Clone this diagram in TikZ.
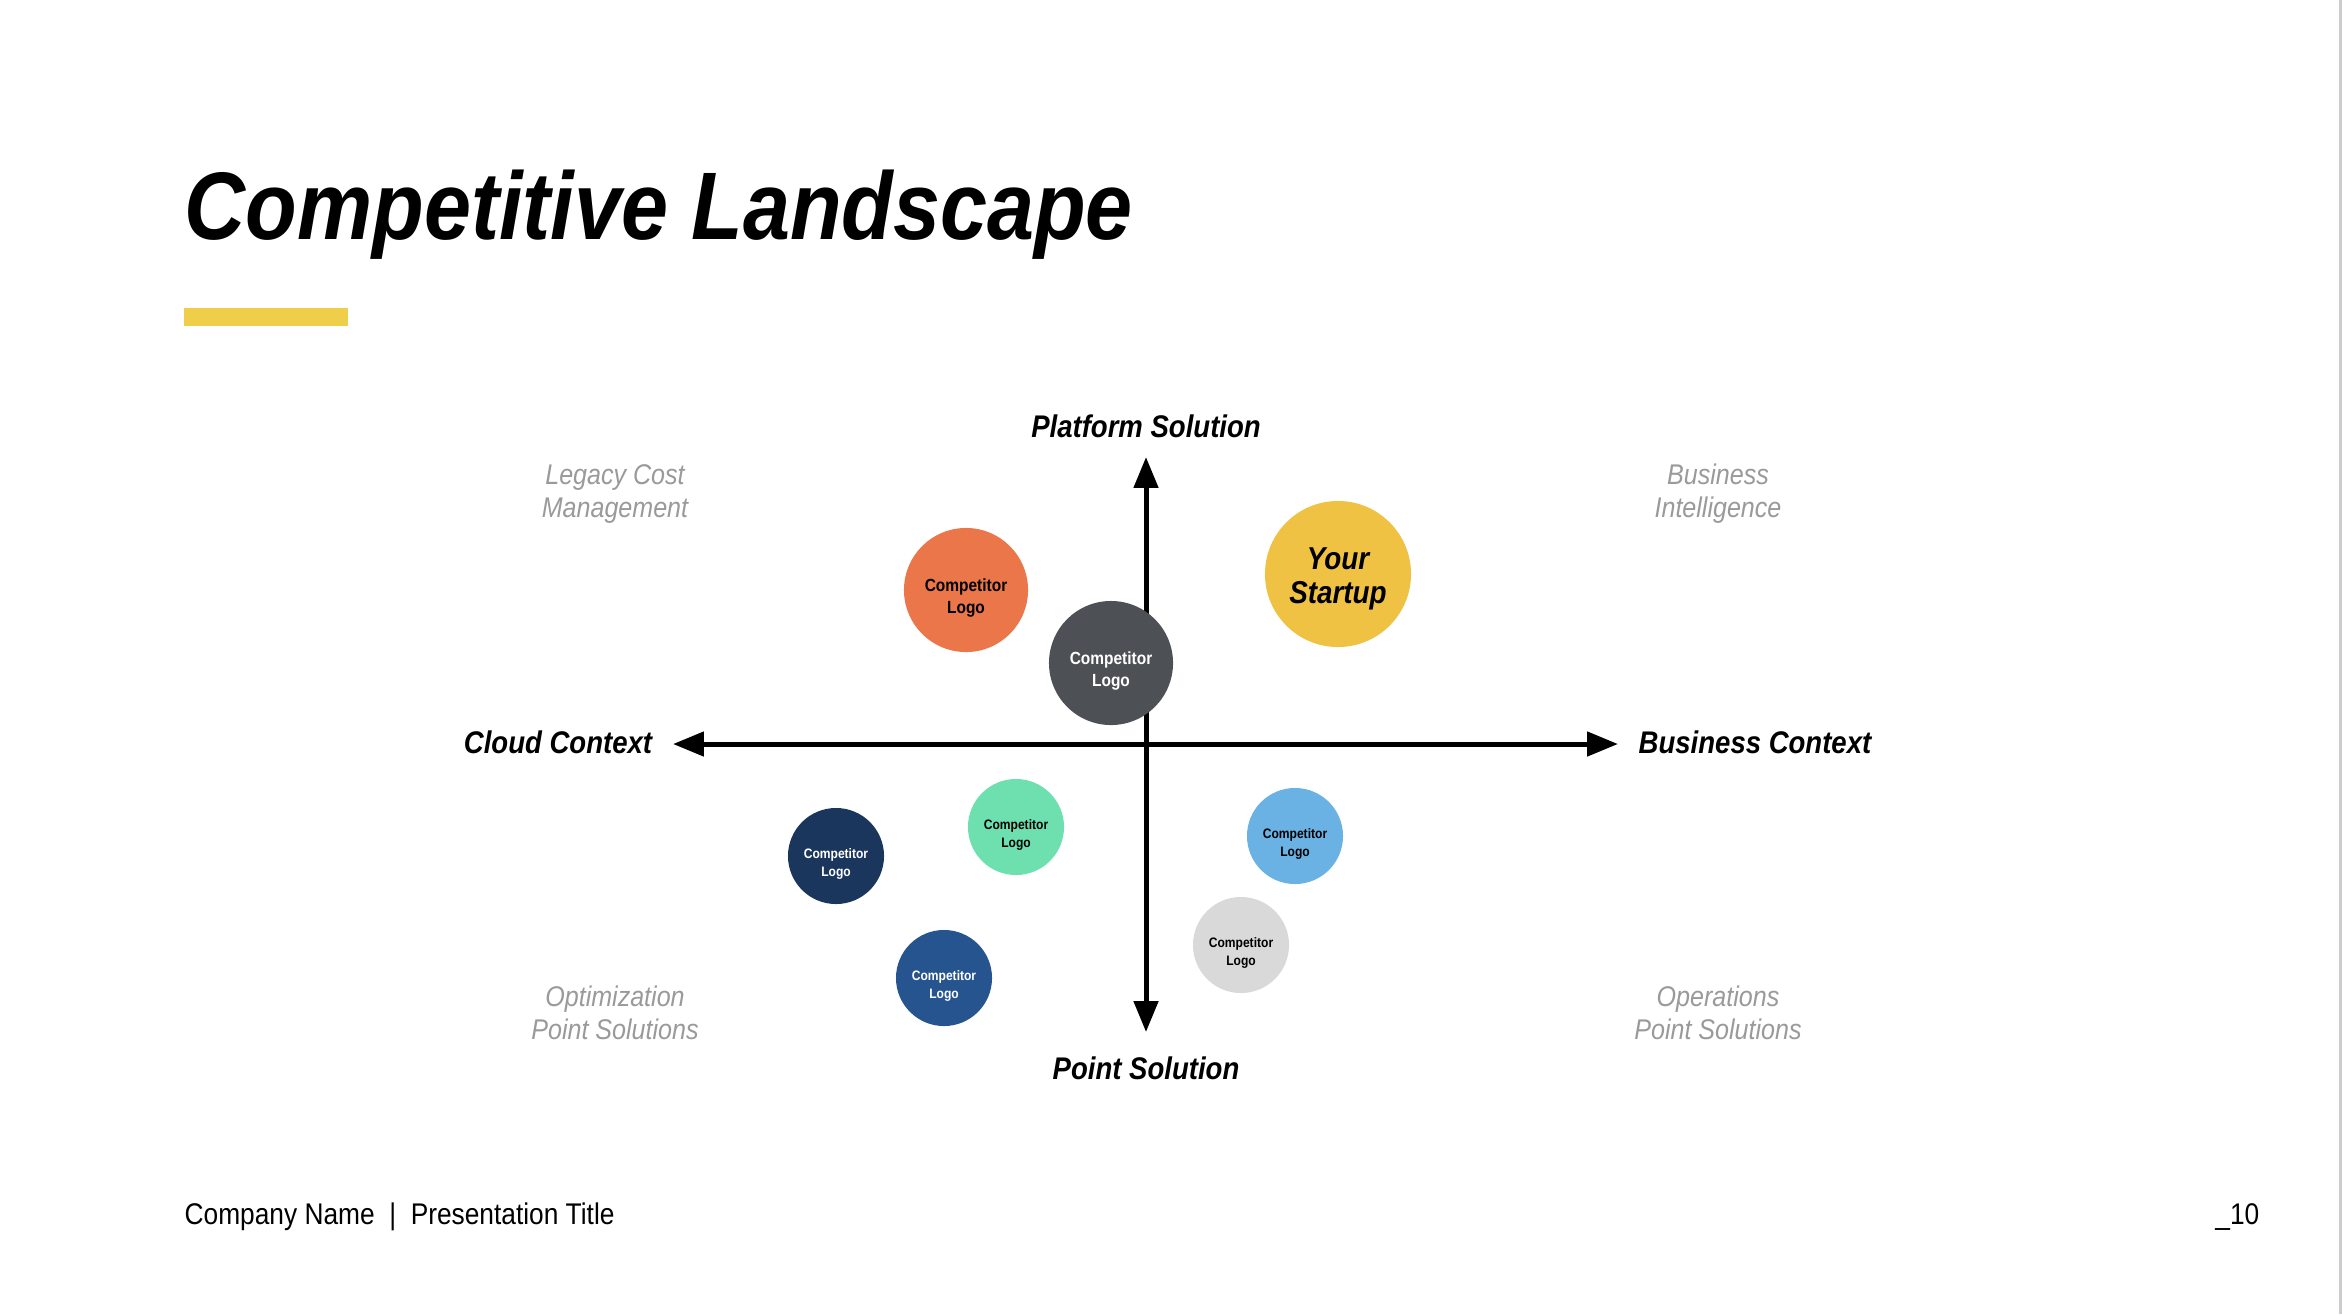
\documentclass[tikz,border=0pt]{standalone}
\usepackage{fontspec}
\setmainfont{Liberation Sans}[FakeStretch=0.88]
\usetikzlibrary{arrows.meta}
\definecolor{cOrange}{HTML}{EA7649}
\definecolor{cDark}{HTML}{4D5055}
\definecolor{cYellow}{HTML}{F0C244}
\definecolor{cNavy}{HTML}{1B365D}
\definecolor{cGreen}{HTML}{6EDFAF}
\definecolor{cMid}{HTML}{26548F}
\definecolor{cLight}{HTML}{6AB1E4}
\definecolor{cGrayC}{HTML}{D9D9D9}
\definecolor{cBar}{HTML}{EFCF4A}
\definecolor{cNote}{HTML}{9A9A9A}
\tikzset{
  axislabel/.style={font=\fontsize{8.9}{10}\selectfont\bfseries\itshape, inner sep=0pt},
  note/.style={font=\fontsize{8.1}{9.4}\selectfont\itshape, text=cNote, align=center, inner sep=0pt},
  bigcirc/.style={circle, minimum size=1.24cm, inner sep=0pt},
  smallcirc/.style={circle, minimum size=0.96cm, inner sep=0pt},
  bigtext/.style={inner sep=0pt, align=center, font=\fontsize{5}{6.3}\selectfont\bfseries},
  smalltext/.style={inner sep=0pt, align=center, font=\fontsize{3.9}{5.1}\selectfont\bfseries},
  axisline/.style={line width=1.42pt, {Triangle[length=8.8pt,width=6.8pt]}-{Triangle[length=8.8pt,width=6.8pt]}},
}
\begin{document}
\begin{tikzpicture}[x=0.01cm,y=-0.01cm]
\useasboundingbox (0,0) rectangle (2342,1314);
\fill[white] (0,0) rectangle (2342,1314);
\fill[black!20] (2339,0) rectangle (2342,1314);
% title
\node[anchor=base west, inner sep=0pt, font=\fontsize{27.3}{30}\selectfont\bfseries\itshape] (title) at (184,239) {Competitive Landscape};
\fill[cBar] (184,308) rectangle (348,326);
% axes
\coordinate (top) at (1146,457);
\coordinate (bottom) at (1146,1032);
\coordinate (left) at (673,744);
\coordinate (right) at (1618,744);
\draw[axisline] (left) -- (right);
\draw[axisline] (top) -- (bottom);
% axis labels
\node[axislabel] (plat) at (1146,426) {Platform Solution};
\node[axislabel] (point) at (1146,1068) {Point Solution};
\node[axislabel] (cloud) at (558,742) {Cloud Context};
\node[axislabel] (bus) at (1755,742) {Business Context};
% quadrant notes
\node[note] (legacy) at (615,494) {Legacy Cost\\Management};
\node[note] (bi) at (1718,494) {Business\\Intelligence};
\node[note] (opt) at (615,1013) {Optimization\\Point Solutions};
\node[note] (ops) at (1718,1013) {Operations\\Point Solutions};
% circles
\node[bigcirc, fill=cOrange] (c1) at (966,590) {};
\node[bigtext, text=black] (c1t) at ([yshift=-0.08cm]c1.center) {Competitor\\Logo};
\node[bigcirc, fill=cDark] (c2) at (1111,663) {};
\node[bigtext, text=white] (c2t) at ([yshift=-0.08cm]c2.center) {Competitor\\Logo};
\node[circle, minimum size=1.46cm, inner sep=0pt, fill=cYellow] (you) at (1338,574) {};
\node[inner sep=0pt, align=center, font=\fontsize{9}{9.7}\selectfont\bfseries\itshape] (yout) at ([yshift=-0.045cm]you.center) {Your\\Startup};
\node[smallcirc, fill=cNavy] (c3) at (836,856) {};
\node[smalltext, text=white] (c3t) at ([yshift=-0.08cm]c3.center) {Competitor\\Logo};
\node[smallcirc, fill=cGreen] (c4) at (1016,827) {};
\node[smalltext, text=black] (c4t) at ([yshift=-0.08cm]c4.center) {Competitor\\Logo};
\node[smallcirc, fill=cMid] (c5) at (944,978) {};
\node[smalltext, text=white] (c5t) at ([yshift=-0.08cm]c5.center) {Competitor\\Logo};
\node[smallcirc, fill=cLight] (c6) at (1295,836) {};
\node[smalltext, text=black] (c6t) at ([yshift=-0.08cm]c6.center) {Competitor\\Logo};
\node[smallcirc, fill=cGrayC] (c7) at (1241,945) {};
\node[smalltext, text=black] (c7t) at ([yshift=-0.08cm]c7.center) {Competitor\\Logo};
% footer
\node[anchor=west, inner sep=0pt, font=\fontsize{8.5}{10}\selectfont] (foot) at (184,1217) {Company Name \ | \ Presentation Title};
\node[anchor=east, inner sep=0pt, font=\fontsize{8.5}{10}\selectfont] (page) at (2260,1217) {\_10};
\end{tikzpicture}
\end{document}
